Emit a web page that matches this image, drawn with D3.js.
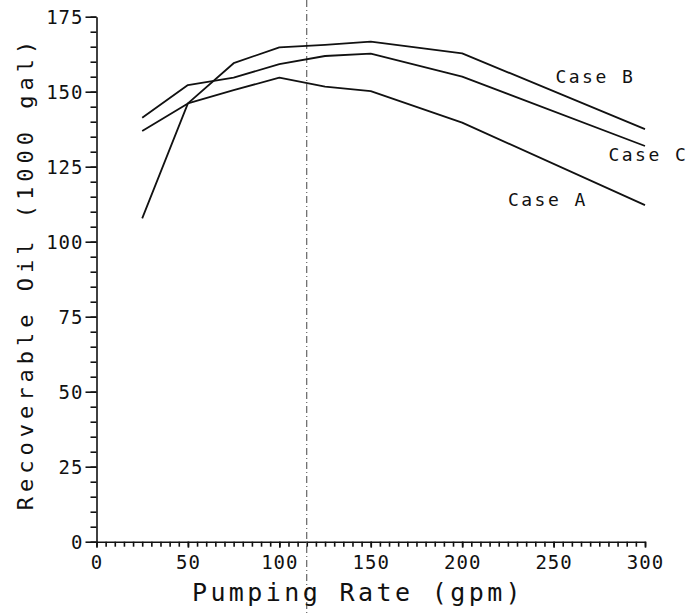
<!DOCTYPE html>
<html lang="en">
<head>
<meta charset="UTF-8">
<title>Recoverable Oil vs Pumping Rate</title>
<style>
    body { margin: 0; padding: 0; background: #fff; }
    svg text { font-family: "DejaVu Sans Mono", monospace; fill: #111; }
    .axis path, .axis line { stroke: #111; stroke-width: 1.6; }
    .curve { fill: none; stroke: #111; stroke-width: 1.8; stroke-linejoin: round; }
</style>
</head>
<body>
<div id="chart"></div>
<script src="https://cdn.jsdelivr.net/npm/d3@7"></script>
<script>
    // pumping rates (gpm)
    const rates = [25, 50, 75, 100, 125, 150, 200, 300];
    // recoverable oil (1000 gal)
    const caseA = [136.9, 146.1, 150.5, 154.7, 151.7, 150.2, 139.7, 112.2];
    const caseB = [107.8, 146.1, 159.5, 164.8, 165.6, 166.7, 162.8, 137.5];
    const caseC = [141.3, 152.2, 154.7, 159.2, 161.9, 162.7, 155.0, 131.9];
    const seriesNames = ['Case A', 'Case B', 'Case C'];
    const xTicks = [0, 50, 100, 150, 200, 250, 300];
    const yTicks = [0, 25, 50, 75, 100, 125, 150, 175];
    const markerRate = 115;

    const w = 695, h = 613;
    const padL = 96.5, padR = 645, padT = 16.7, padB = 541.7;

    const x = d3.scaleLinear().domain([0, 300]).range([padL, padR]);
    const y = d3.scaleLinear().domain([0, 175]).range([padB, padT]);

    const svg = d3.select('#chart').append('svg')
        .attr('width', w).attr('height', h);

    // minor ticks
    svg.append('g').attr('class', 'axis')
        .attr('transform', `translate(${padL},0)`)
        .call(d3.axisLeft(y).tickValues(d3.range(0, 176, 5)).tickSize(6).tickFormat(''))
        .select('.domain').remove();
    svg.append('g').attr('class', 'axis')
        .attr('transform', `translate(0,${padB})`)
        .call(d3.axisBottom(x).tickValues(d3.range(0, 301, 5)).tickSize(5).tickFormat(''))
        .select('.domain').remove();

    // major ticks + labels
    const yAxis = svg.append('g').attr('class', 'axis')
        .attr('transform', `translate(${padL},0)`)
        .call(d3.axisLeft(y).tickValues(yTicks).tickSize(11).tickSizeOuter(0).tickPadding(2));
    yAxis.selectAll('text').style('font-size', '19px').style('letter-spacing', '1px').attr('dy', '0.36em');

    const xAxis = svg.append('g').attr('class', 'axis')
        .attr('transform', `translate(0,${padB})`)
        .call(d3.axisBottom(x).tickValues(xTicks).tickSize(6).tickSizeOuter(0).tickPadding(8));
    xAxis.selectAll('text').style('font-size', '19px').style('letter-spacing', '1px');

    // dash-dot reference line
    svg.append('line')
        .attr('x1', x(markerRate)).attr('x2', x(markerRate))
        .attr('y1', 0).attr('y2', h)
        .attr('stroke', '#444').attr('stroke-width', 1)
        .attr('stroke-dasharray', '7,3,1,3');

    const line = d3.line().x((d, i) => x(rates[i])).y(d => y(d));
    [caseA, caseB, caseC].forEach(s => {
        svg.append('path').attr('class', 'curve').attr('d', line(s));
    });

    // case labels
    const labelPos = [[225, 114.2], [251, 155], [280, 128.9]];
    seriesNames.forEach((name, i) => {
        svg.append('text')
            .attr('x', x(labelPos[i][0])).attr('y', y(labelPos[i][1]))
            .attr('dy', '0.36em')
            .style('font-size', '18px')
            .style('letter-spacing', '2.5px')
            .text(name);
    });

    // axis titles
    svg.append('text')
        .attr('x', 358).attr('y', 601)
        .attr('text-anchor', 'middle')
        .style('font-size', '25px')
        .style('letter-spacing', '3.4px')
        .text('Pumping Rate (gpm)');

    svg.append('text')
        .attr('transform', 'translate(33,273) rotate(-90)')
        .attr('text-anchor', 'middle')
        .style('font-size', '22px')
        .style('letter-spacing', '5px')
        .text('Recoverable Oil (1000 gal)');
</script>
</body>
</html>
